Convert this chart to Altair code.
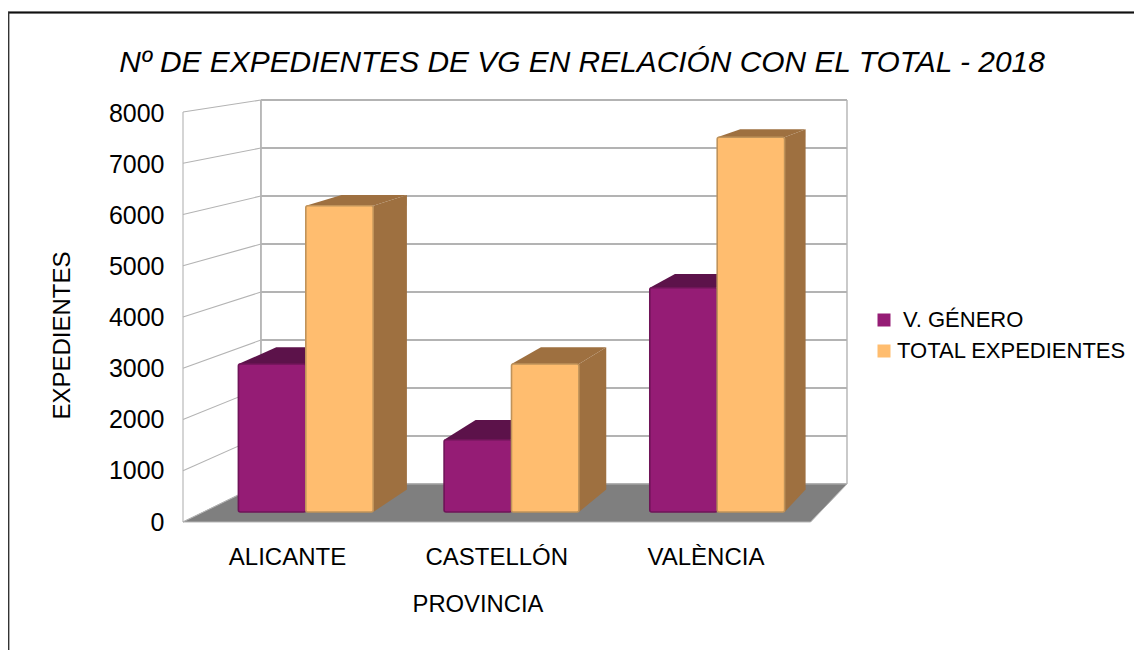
import altair as alt
import pandas as pd

categories = ["ALICANTE", "CASTELLÓN", "VALÈNCIA"]
genero = [2930, 1430, 4440]
total = [6065, 2930, 7420]
ticks = [0, 1000, 2000, 3000, 4000, 5000, 6000, 7000, 8000]
series_names = ["\u200b\u00a0V. GÉNERO", "TOTAL EXPEDIENTES"]

PURPLE, PURPLE_TOP, PURPLE_EDGE = "#951C75", "#5C124A", "#6F1458"
ORANGE, ORANGE_SIDE, ORANGE_EDGE = "#FFBD6F", "#9E7040", "#C0935A"
GRID, FLOOR = "#B3B3B3", "#7F7F7F"
FONT = "Liberation Sans"

W, H = 1126, 642
# Scales of the 3-D scene: x in category units, y in value units
px0, px_per_cat = 305.8, 205.7
py0, py_per_val = 512.0, 0.0505
xs = alt.Scale(domain=[(8 - px0) / px_per_cat, (8 + W - px0) / px_per_cat])
ys = alt.Scale(domain=[(py0 - (8 + H)) / py_per_val, (py0 - 8) / py_per_val])

# Perspective of the bars' depth
BX, XV, BY, YV = 0.0309, 5.63, 0.0387, 11505.0
def bx(x): return x + BX * (XV - x)
def by(v): return v + BY * (YV - v)

# Room of the scene
X_FRONT, X_BACK, X_BACK_R, X_FRONT_R = -0.597, -0.218, 2.631, 2.454
V_FRONT, V_BACK = -198.0, 554.0
K_FRONT, K_BACK = 1.015, 0.9505
BAR = 0.3277

def X(f, **k): return alt.X(f, type="quantitative", scale=xs, axis=None, stack=None, **k)
def Y(f, **k): return alt.Y(f, type="quantitative", scale=ys, axis=None, stack=None, **k)

# floor
floor = pd.DataFrame([
    {"y": V_FRONT, "x": X_FRONT, "x2": X_FRONT_R},
    {"y": V_BACK, "x": X_BACK, "x2": X_BACK_R},
])
floor_layer = alt.Chart(floor).mark_area(orient="horizontal", color=FLOOR, stroke=GRID, strokeWidth=1).encode(
    x=X("x"), x2="x2", y=Y("y"))

# walls
back = pd.DataFrame([{"x": X_BACK, "x2": X_BACK_R, "y": V_BACK + K_BACK * t} for t in ticks])
back_layer = alt.Chart(back).mark_rule(color=GRID, strokeWidth=1.8).encode(x=X("x"), x2="x2", y=Y("y"))
left = pd.DataFrame(
    [{"t": t, "x": X_FRONT, "y": V_FRONT + K_FRONT * t} for t in ticks] +
    [{"t": t, "x": X_BACK, "y": V_BACK + K_BACK * t} for t in ticks])
left_layer = alt.Chart(left).mark_line(color=GRID, strokeWidth=1.1).encode(x=X("x"), y=Y("y"), detail="t:N")
verts = pd.DataFrame([
    {"x": X_FRONT, "y": V_FRONT, "y2": V_FRONT + K_FRONT * 8000, "w": 1.1},
    {"x": X_BACK, "y": V_BACK, "y2": V_BACK + K_BACK * 8000, "w": 1.8},
    {"x": X_BACK_R, "y": V_BACK, "y2": V_BACK + K_BACK * 8000, "w": 1.4},
])
vert_layer = alt.Chart(verts).mark_rule(color=GRID).encode(
    x=X("x"), y=Y("y"), y2="y2", strokeWidth=alt.StrokeWidth("w:Q", scale=None))

# bars
bars = []
for name, vals, off in ((series_names[0], genero, -1), (series_names[1], total, 0)):
    for i, (c, v) in enumerate(zip(categories, vals)):
        bars.append({"cat": c, "serie": name, "value": v,
                     "x0": i + off * BAR if off else i, "x1": i + (off + 1) * BAR})
bars = pd.DataFrame(bars)
sides, tops = [], []
for _, b in bars.iterrows():
    key = b["cat"] + b["serie"]
    sides += [{"key": key, "serie": b["serie"], "x": b["x1"], "top": b["value"], "bottom": 0},
              {"key": key, "serie": b["serie"], "x": bx(b["x1"]), "top": by(b["value"]), "bottom": by(0)}]
    tops += [{"key": key, "serie": b["serie"], "y": b["value"], "a": b["x0"], "b": b["x1"]},
             {"key": key, "serie": b["serie"], "y": by(b["value"]), "a": bx(b["x0"]), "b": bx(b["x1"])}]
sides, tops = pd.DataFrame(sides), pd.DataFrame(tops)

faces = []
for name, side_c, top_c in ((series_names[0], PURPLE_TOP, PURPLE_TOP), (series_names[1], ORANGE_SIDE, ORANGE_SIDE)):
    faces.append(alt.Chart(sides[sides.serie == name]).mark_area(color=side_c).encode(
        x=X("x"), y=Y("top"), y2="bottom", detail="key:N"))
    faces.append(alt.Chart(tops[tops.serie == name]).mark_area(orient="horizontal", color=top_c).encode(
        x=X("a"), x2="b", y=Y("y"), detail="key:N"))

fronts = alt.Chart(bars).mark_bar(cornerRadius=2, strokeWidth=1.6, opacity=1).encode(
    x=X("x0"), x2="x1", y=Y("value"), y2=alt.Y2(datum=0),
    color=alt.Color("serie:N", scale=alt.Scale(domain=series_names, range=[PURPLE, ORANGE]),
                    legend=alt.Legend(title=None, orient="none", legendX=865, legendY=301,
                                      symbolType="square", symbolSize=169, symbolStrokeWidth=0,
                                      labelFont=FONT, labelFontSize=22, labelColor="#000",
                                      labelOffset=2, rowPadding=9, labelLimit=400)),
    stroke=alt.Color("serie:N", scale=alt.Scale(domain=series_names, range=[PURPLE_EDGE, ORANGE_EDGE]), legend=None),
)

# real axes, in the positions the 3-D projection gives them
axis_data = pd.DataFrame({"cat": categories, "value": total})
axes = alt.Chart(axis_data).mark_point(opacity=0).encode(
    x=alt.X("cat:N", scale=alt.Scale(type="point", domain=categories, range=[279, 697.5], padding=0),
            axis=alt.Axis(orient="bottom", offset=-(H - 537), domain=False, ticks=False, labelAngle=0,
                          labelFont=FONT, labelFontSize=24, labelColor="#000", labelPadding=0,
                          labelBaseline="top", title="PROVINCIA", titleFont=FONT, titleFontSize=23.8,
                          titleFontWeight="normal", titleColor="#000", titleX=469.5, titleY=47)),
    y=alt.Y("value:Q", scale=alt.Scale(domain=[0, 8000], range=[514, 105]),
            axis=alt.Axis(orient="left", offset=-156, domain=False, ticks=False, grid=False, values=ticks,
                          format="d", labelFont=FONT, labelFontSize=25, labelColor="#000", labelPadding=0,
                          title="EXPEDIENTES", titleFont=FONT, titleFontSize=24, titleFontWeight="normal",
                          titleColor="#000", titleX=-90, titleY=327, titleAngle=270)),
)

border_top = alt.Chart(axis_data).mark_rule(color="#111", strokeWidth=1.3).encode(
    x=alt.value(0), x2=alt.value(W), y=alt.value(4.5))
border_left = alt.Chart(axis_data).mark_rule(color="#333", strokeWidth=1.3).encode(
    x=alt.value(0.5), y=alt.value(4), y2=alt.value(H))

chart = alt.layer(
    border_top, border_left, back_layer, left_layer, vert_layer, floor_layer, *faces, fronts, axes
).resolve_scale(x="independent", y="independent").properties(
    width=W, height=H, padding=0, autosize=alt.AutoSizeParams(type="none"),
    title=alt.TitleParams("Nº DE EXPEDIENTES DE VG EN RELACIÓN CON EL TOTAL - 2018", font=FONT, fontSize=29.9,
                          fontStyle="italic", fontWeight="normal", color="#000", anchor="middle", offset=-70, dx=11),
).configure_view(stroke=None)

chart.save("out.html", embed_options={"renderer": "svg", "actions": False})
